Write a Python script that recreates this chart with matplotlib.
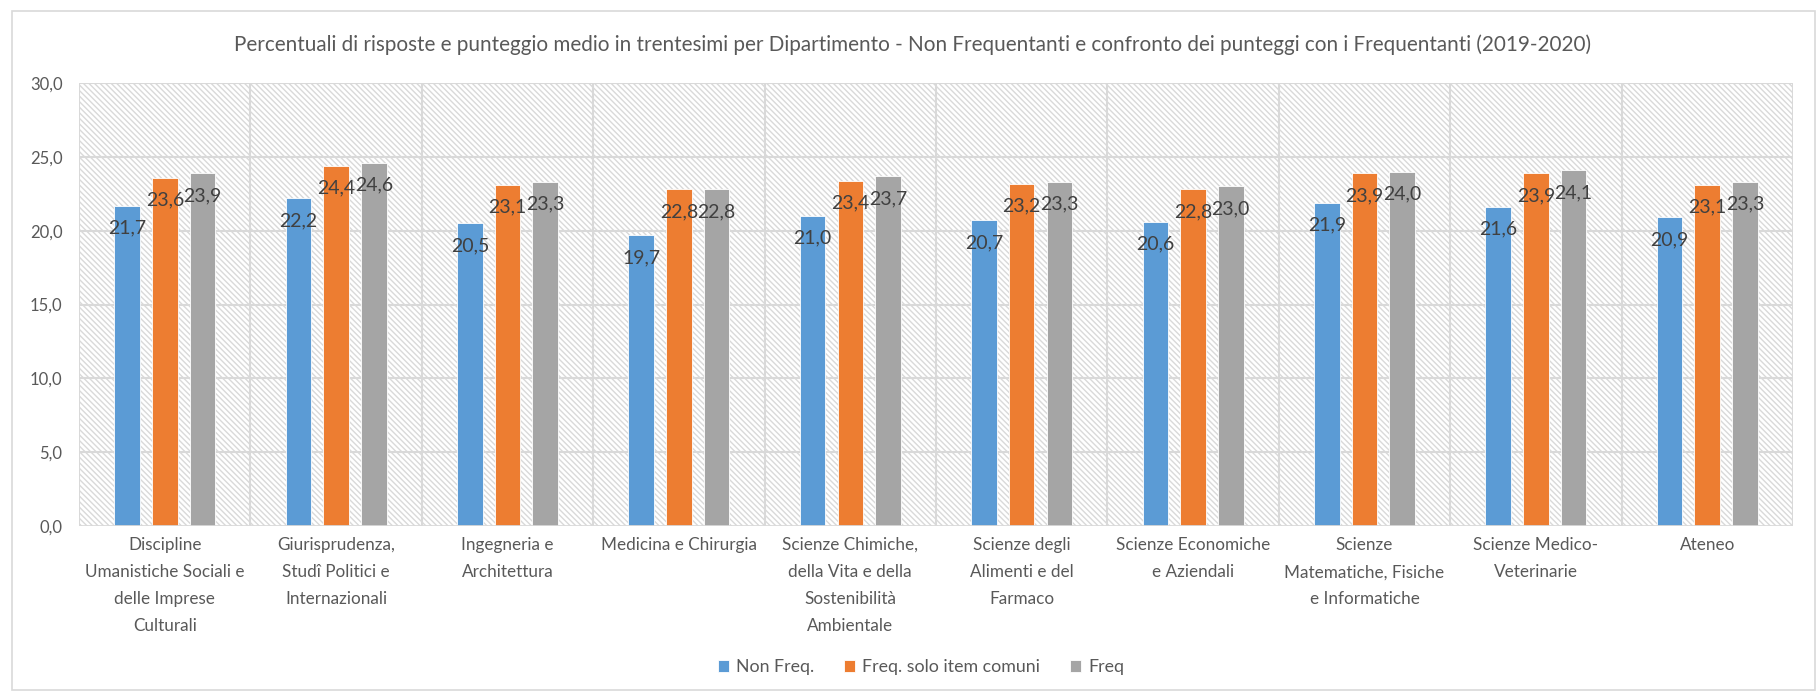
import numpy as np
import matplotlib
matplotlib.use('Agg')
import matplotlib.pyplot as plt
from matplotlib.patches import Rectangle

plt.rcParams['font.family'] = ['Lato', 'DejaVu Sans']
plt.rcParams['hatch.color'] = '#d9d9d9'
plt.rcParams['hatch.linewidth'] = 1.0

categories = [
    'Discipline\nUmanistiche Sociali e\ndelle Imprese\nCulturali',
    'Giurisprudenza,\nStudî Politici e\nInternazionali',
    'Ingegneria e\nArchitettura',
    'Medicina e Chirurgia',
    'Scienze Chimiche,\ndella Vita e della\nSostenibilità\nAmbientale',
    'Scienze degli\nAlimenti e del\nFarmaco',
    'Scienze Economiche\ne Aziendali',
    'Scienze\nMatematiche, Fisiche\ne Informatiche',
    'Scienze Medico-\nVeterinarie',
    'Ateneo',
]
non_freq = [21.7, 22.2, 20.5, 19.7, 21.0, 20.7, 20.6, 21.9, 21.6, 20.9]
freq_comuni = [23.6, 24.4, 23.1, 22.8, 23.4, 23.2, 22.8, 23.9, 23.9, 23.1]
freq = [23.9, 24.6, 23.3, 22.8, 23.7, 23.3, 23.0, 24.0, 24.1, 23.3]
series_names = ['Non Freq.', 'Freq. solo item comuni', 'Freq']
colors = ['#5b9bd5', '#ed7d31', '#a5a5a5']

fig = plt.figure(figsize=(18.18, 6.93), dpi=100)
ax = fig.add_axes([0.0435, 0.241, 0.9427, 0.639])

# chart border
fig.patches.append(Rectangle((12/1818, 3/693), 1803/1818, 679/693, transform=fig.transFigure,
                             fill=False, edgecolor='#d9d9d9', linewidth=1.2))

n = len(categories)
x = np.arange(n)
ax.set_xlim(-0.5, n - 0.5)
ax.set_ylim(0, 30)

# hatched plot area
ax.add_patch(Rectangle((-0.5, 0), n, 30, facecolor='white', edgecolor='#d9d9d9',
                       hatch='\\\\\\\\\\\\', linewidth=0, zorder=0))

w = 0.149
step = 0.22
for k, (vals, name, c) in enumerate(zip([non_freq, freq_comuni, freq], series_names, colors)):
    pos = x + (k - 1) * step
    ax.bar(pos, vals, width=w, color=c, label=name, zorder=3,
           edgecolor='white', linewidth=0.6)
    for xp, v in zip(pos, vals):
        ax.annotate(('%.1f' % v).replace('.', ','), (xp, v), xytext=(0, -16),
                    textcoords='offset points', ha='center', va='center',
                    fontsize=14, color='#404040', zorder=5)

# grid
for yv in [5, 10, 15, 20, 25, 30]:
    ax.axhline(yv, color='#d9d9d9', linewidth=1.5, zorder=1)
for xv in np.arange(-0.5, n, 1.0):
    ax.axvline(xv, color='#d9d9d9', linewidth=1.5, zorder=1)
ax.axhline(0, color='#d9d9d9', linewidth=2, zorder=4)

yticks = [0, 5, 10, 15, 20, 25, 30]
ax.set_yticks(yticks)
ax.set_yticklabels([('%.1f' % v).replace('.', ',') for v in yticks])
ax.set_xticks(x)
ax.set_xticklabels(categories, linespacing=1.85)
ax.tick_params(axis='y', length=0, pad=12, labelsize=12, labelcolor='#595959')
ax.tick_params(axis='x', length=0, pad=8, labelsize=12.3, labelcolor='#595959')
for s in ax.spines.values():
    s.set_visible(False)

fig.text(0.502, 0.936, 'Percentuali di risposte e punteggio medio in trentesimi per Dipartimento - '
         'Non Frequentanti e confronto dei punteggi con i Frequentanti (2019-2020)',
         ha='center', va='center', fontsize=14.9, color='#595959')

fig.legend(loc='center', bbox_to_anchor=(0.5066, 0.037), ncol=3, frameon=False,
           fontsize=12.8, handlelength=0.6, handleheight=0.6, handletextpad=0.4,
           columnspacing=1.7, labelcolor='#595959')

plt.savefig('out.png', dpi=100)
